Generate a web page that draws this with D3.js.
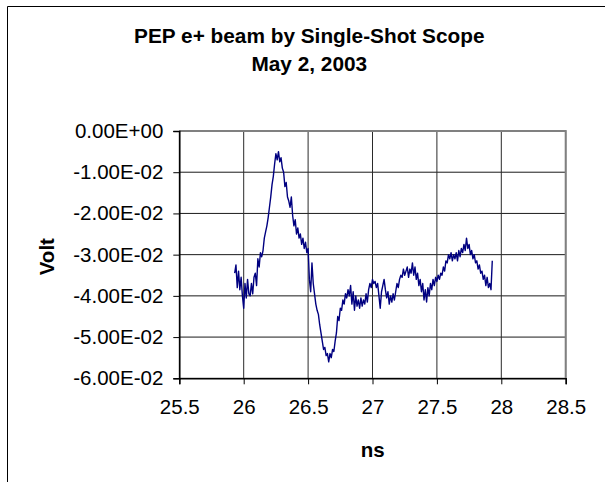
<!DOCTYPE html>
<html>
<head>
<meta charset="utf-8">
<script src="https://cdn.jsdelivr.net/npm/d3@7"></script>
<style>
  html, body { margin: 0; padding: 0; background: #fff; }
  svg { display: block; font-family: Arial, "Liberation Sans", sans-serif; }
</style>
</head>
<body>
<svg id="chart" width="605" height="482"></svg>
<script>
// ---- data ----
const titleLines = ["PEP e+ beam by Single-Shot Scope", "May 2, 2003"];
const xLabel = "ns";
const yLabel = "Volt";
const xTicks = [25.5, 26, 26.5, 27, 27.5, 28, 28.5];
const xTickLabels = ["25.5", "26", "26.5", "27", "27.5", "28", "28.5"];
const yTicks = [0, -0.01, -0.02, -0.03, -0.04, -0.05, -0.06];
const yTickLabels = ["0.00E+00", "-1.00E-02", "-2.00E-02", "-3.00E-02", "-4.00E-02", "-5.00E-02", "-6.00E-02"];
// scope sampling: first sample time (ns) and sample interval (ns)
const sampleStart = 25.93;
const sampleStep = 0.01;
// measured voltage (V), one value per sample
const volts = [
  -0.0345,-0.0325,-0.0380,-0.0340,-0.0385,-0.0355,-0.0400,-0.0430,
  -0.0370,-0.0405,-0.0360,-0.0395,-0.0400,-0.0370,-0.0395,-0.0355,-0.0345,-0.0375,
  -0.0310,-0.0330,-0.0295,-0.0305,-0.0290,-0.0260,-0.0245,-0.0230,-0.0210,-0.0185,
  -0.0160,-0.0130,-0.0110,-0.0080,-0.0055,-0.0070,-0.0050,-0.0075,-0.0065,-0.0090,
  -0.0100,-0.0135,-0.0125,-0.0160,-0.0170,-0.0185,-0.0160,-0.0205,-0.0230,-0.0215,
  -0.0250,-0.0235,-0.0260,-0.0250,-0.0275,-0.0260,-0.0285,-0.0270,-0.0295,-0.0285,
  -0.0360,-0.0390,-0.0320,-0.0370,-0.0395,-0.0420,-0.0435,-0.0445,-0.0470,-0.0490,
  -0.0510,-0.0530,-0.0525,-0.0545,-0.0540,-0.0560,-0.0540,-0.0550,-0.0530,-0.0535,
  -0.0510,-0.0490,-0.0450,-0.0460,-0.0430,-0.0435,-0.0410,-0.0420,-0.0395,-0.0405,
  -0.0385,-0.0400,-0.0375,-0.0420,-0.0390,-0.0435,-0.0400,-0.0425,-0.0410,-0.0430,
  -0.0405,-0.0425,-0.0410,-0.0420,-0.0395,-0.0415,-0.0385,-0.0370,-0.0380,-0.0360,
  -0.0370,-0.0365,-0.0380,-0.0370,-0.0400,-0.0430,-0.0390,-0.0375,-0.0360,-0.0385,
  -0.0405,-0.0390,-0.0420,-0.0400,-0.0415,-0.0395,-0.0410,-0.0390,-0.0370,-0.0380,
  -0.0360,-0.0350,-0.0355,-0.0335,-0.0350,-0.0340,-0.0330,-0.0355,-0.0335,-0.0345,
  -0.0320,-0.0350,-0.0330,-0.0360,-0.0345,-0.0375,-0.0360,-0.0390,-0.0370,-0.0410,
  -0.0385,-0.0415,-0.0380,-0.0400,-0.0370,-0.0385,-0.0360,-0.0375,-0.0355,-0.0365,
  -0.0350,-0.0360,-0.0345,-0.0350,-0.0330,-0.0340,-0.0315,-0.0320,-0.0300,-0.0310,
  -0.0295,-0.0315,-0.0300,-0.0310,-0.0295,-0.0315,-0.0290,-0.0305,-0.0285,-0.0295,
  -0.0275,-0.0290,-0.0260,-0.0285,-0.0275,-0.0300,-0.0290,-0.0310,-0.0300,-0.0320,
  -0.0315,-0.0335,-0.0325,-0.0345,-0.0340,-0.0360,-0.0350,-0.0375,-0.0355,-0.0380,
  -0.0370,-0.0385,-0.0315
];

// ---- layout ----
const svg = d3.select("#chart");
const plot = { left: 179.3, right: 565.7, top: 131, bottom: 378.3 };

const x = d3.scaleLinear().domain([25.5, 28.5]).range([plot.left, plot.right]);
const y = d3.scaleLinear().domain([-0.06, 0]).range([plot.bottom, plot.top]);

svg.append("rect").attr("width", 605).attr("height", 482).attr("fill", "#fff");

// outer chart-area border (extends beyond right & bottom of the picture)
svg.append("path")
  .attr("d", "M7.5,490 V6.5 H620")
  .attr("fill", "none").attr("stroke", "#000").attr("stroke-width", 1);

// title
svg.append("g").selectAll("text").data(titleLines).join("text")
  .attr("x", 309.3)
  .attr("y", (d, i) => 42.5 + i * 28.6)
  .attr("text-anchor", "middle")
  .attr("font-weight", "bold")
  .attr("font-size", "20.8px")
  .attr("fill", "#000")
  .text(d => d);

// gridlines
const grid = svg.append("g");
grid.selectAll("line.h").data(yTicks).join("line")
  .attr("class", "h")
  .attr("x1", plot.left).attr("x2", plot.right)
  .attr("y1", d => y(d)).attr("y2", d => y(d))
  .attr("stroke", "#1a1a1a").attr("stroke-width", 1);
grid.selectAll("line.v").data(xTicks).join("line")
  .attr("class", "v")
  .attr("y1", plot.top).attr("y2", plot.bottom)
  .attr("x1", d => x(d)).attr("x2", d => x(d))
  .attr("stroke", "#2a2a2a").attr("stroke-width", 1);

// top & right frame (gray)
svg.append("path")
  .attr("d", `M${plot.left},${plot.top} H${plot.right} V${plot.bottom}`)
  .attr("fill", "none").attr("stroke", "#808080").attr("stroke-width", 2);

// axes
const yAxis = d3.axisLeft(y).tickValues(yTicks)
  .tickFormat((d, i) => yTickLabels[i]).tickSize(6).tickPadding(10);
const gy = svg.append("g").attr("transform", `translate(${plot.left},0)`).call(yAxis);
gy.select(".domain").attr("stroke", "#000").attr("stroke-width", 1.5);
gy.selectAll(".tick line").attr("stroke", "#000");
gy.selectAll(".tick text").attr("font-size", "20.5px").attr("fill", "#000")
  .attr("font-family", "Arial, 'Liberation Sans', sans-serif");

const xAxis = d3.axisBottom(x).tickValues(xTicks)
  .tickFormat((d, i) => xTickLabels[i]).tickSize(6).tickPadding(15);
const gx = svg.append("g").attr("transform", `translate(0,${plot.bottom})`).call(xAxis);
gx.select(".domain").attr("stroke", "#000").attr("stroke-width", 1.5);
gx.selectAll(".tick line").attr("stroke", "#000");
gx.selectAll(".tick text").attr("font-size", "20.5px").attr("fill", "#000")
  .attr("font-family", "Arial, 'Liberation Sans', sans-serif");

// data line
const line = d3.line()
  .x((d, i) => x(sampleStart + i * sampleStep))
  .y(d => y(d));
svg.append("path")
  .datum(volts)
  .attr("d", line)
  .attr("fill", "none")
  .attr("stroke", "#000080")
  .attr("stroke-width", 1.4)
  .attr("stroke-linejoin", "round");

// axis titles
svg.append("text")
  .attr("x", 372.6).attr("y", 457)
  .attr("text-anchor", "middle")
  .attr("font-weight", "bold").attr("font-size", "20.5px")
  .text(xLabel);
svg.append("text")
  .attr("transform", "translate(53.5,256.7) rotate(-90)")
  .attr("text-anchor", "middle")
  .attr("font-weight", "bold").attr("font-size", "20.5px")
  .text(yLabel);
</script>
</body>
</html>
